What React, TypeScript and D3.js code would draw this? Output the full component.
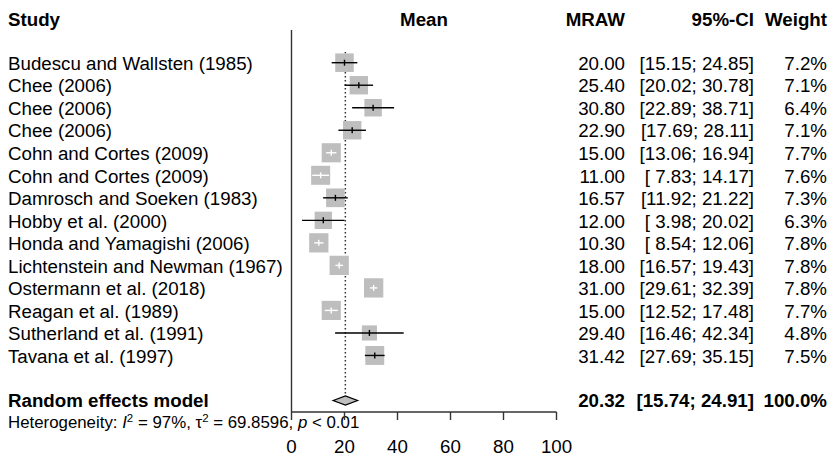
import React from "react";
import * as d3 from "d3";

const studies = [
  "Budescu and Wallsten (1985)",
  "Chee (2006)",
  "Chee (2006)",
  "Chee (2006)",
  "Cohn and Cortes (2009)",
  "Cohn and Cortes (2009)",
  "Damrosch and Soeken (1983)",
  "Hobby et al. (2000)",
  "Honda and Yamagishi (2006)",
  "Lichtenstein and Newman (1967)",
  "Ostermann et al. (2018)",
  "Reagan et al. (1989)",
  "Sutherland et al. (1991)",
  "Tavana et al. (1997)",
];
const means = [20.0, 25.4, 30.8, 22.9, 15.0, 11.0, 16.57, 12.0, 10.3, 18.0, 31.0, 15.0, 29.4, 31.42];
const lower = [15.15, 20.02, 22.89, 17.69, 13.06, 7.83, 11.92, 3.98, 8.54, 16.57, 29.61, 12.52, 16.46, 27.69];
const upper = [24.85, 30.78, 38.71, 28.11, 16.94, 14.17, 21.22, 20.02, 12.06, 19.43, 32.39, 17.48, 42.34, 35.15];
const weights = [7.2, 7.1, 6.4, 7.1, 7.7, 7.6, 7.3, 6.3, 7.8, 7.8, 7.8, 7.7, 4.8, 7.5];
const pooled = { label: "Random effects model", mean: 20.32, lower: 15.74, upper: 24.91, weight: 100.0 };
const xTicks = [0, 20, 40, 60, 80, 100];
const headers = { study: "Study", plot: "Mean", est: "MRAW", ci: "95%-CI", weight: "Weight" };

const FONT = "'Liberation Sans', Arial, Helvetica, sans-serif";
const SX = 1.04;
const FS = 18;

function T(props: {
  x: number;
  y: number;
  anchor?: string;
  bold?: boolean;
  size?: number;
  children: React.ReactNode;
}) {
  const { x, y, anchor = "start", bold = false, size = FS, children } = props;
  return (
    <text
      transform={`translate(${x},${y}) scale(${SX},1)`}
      textAnchor={anchor}
      fontFamily={FONT}
      fontSize={size}
      fontWeight={bold ? "bold" : "normal"}
      fill="#000"
      style={{ whiteSpace: "pre" }}
    >
      {children}
    </text>
  );
}

export default function App() {
  const W = 833;
  const H = 456;
  const x = d3.scaleLinear().domain([0, 100]).range([291.5, 556.5]);
  const y = d3.scaleLinear().domain([1, 16]).range([62.7, 400.5]);
  const boxSide = (w: number) => 6.9 * Math.sqrt(w);
  const f2 = d3.format(".2f");
  const f52 = d3.format("5.2f");
  const f1 = d3.format(".1f");
  const axisY = 412;
  const colEst = 625;
  const colCi = 754;
  const colW = 827;
  const textOff = 7.2;
  const pooledOff = 6.4;

  const rows = studies.map((s, i) => ({
    study: s,
    mean: means[i],
    lo: lower[i],
    hi: upper[i],
    w: weights[i],
    yy: y(i + 1),
  }));

  const py = y(16);
  const diamond = [
    [x(pooled.lower), py],
    [x(pooled.mean), py - 4.5],
    [x(pooled.upper), py],
    [x(pooled.mean), py + 4.5],
  ];

  return (
    <svg width={W} height={H} style={{ position: "absolute", left: 0, top: 0, background: "#fff" }}>
      {/* headers */}
      <T x={8} y={26} bold>{headers.study}</T>
      <T x={(x(0) + x(100)) / 2} y={26} anchor="middle" bold>{headers.plot}</T>
      <T x={colEst} y={26} anchor="end" bold>{headers.est}</T>
      <T x={colCi} y={26} anchor="end" bold>{headers.ci}</T>
      <T x={colW} y={26} anchor="end" bold>{headers.weight}</T>

      {/* reference line at 0 */}
      <line x1={x(0)} x2={x(0)} y1={30} y2={axisY} stroke="#333" strokeWidth={1.4} />
      {/* dotted pooled line */}
      <line
        x1={x(pooled.mean)}
        x2={x(pooled.mean)}
        y1={52}
        y2={py - 4.5}
        stroke="#333"
        strokeWidth={1.5}
        strokeDasharray="1.5,2.5"
      />

      {/* studies */}
      {rows.map((r, i) => {
        const s = boxSide(r.w);
        const inside = x(r.hi) - x(r.lo) < s;
        const col = inside ? "#fff" : "#000";
        return (
          <g key={i}>
            <rect x={x(r.mean) - s / 2} y={r.yy - s / 2} width={s} height={s} fill="#BEBEBE" />
            <line x1={x(r.lo)} x2={x(r.hi)} y1={r.yy} y2={r.yy} stroke={col} strokeWidth={1.4} />
            <line x1={x(r.mean)} x2={x(r.mean)} y1={r.yy - 3} y2={r.yy + 3} stroke={col} strokeWidth={1.4} />
            <T x={8} y={r.yy + textOff}>{r.study}</T>
            <T x={colEst} y={r.yy + textOff} anchor="end">{f2(r.mean)}</T>
            <T x={colCi} y={r.yy + textOff} anchor="end">{`[${f52(r.lo)}; ${f52(r.hi)}]`}</T>
            <T x={colW} y={r.yy + textOff} anchor="end">{`${f1(r.w)}%`}</T>
          </g>
        );
      })}

      {/* pooled */}
      <polygon points={diamond.map((p) => p.join(",")).join(" ")} fill="#BEBEBE" stroke="#000" strokeWidth={1.3} />
      <T x={8} y={py + pooledOff} bold>{pooled.label}</T>
      <T x={colEst} y={py + pooledOff} anchor="end" bold>{f2(pooled.mean)}</T>
      <T x={colCi} y={py + pooledOff} anchor="end" bold>{`[${f52(pooled.lower)}; ${f52(pooled.upper)}]`}</T>
      <T x={colW} y={py + pooledOff} anchor="end" bold>{`${f1(pooled.weight)}%`}</T>

      {/* heterogeneity */}
      <text
        transform={`translate(8,427.5) scale(${SX},1)`}
        fontFamily={FONT}
        fontSize={16.2}
        fill="#000"
        style={{ whiteSpace: "pre" }}
      >
        <tspan>Heterogeneity: </tspan>
        <tspan fontStyle="italic">I</tspan>
        <tspan fontSize={11} dy={-5.5}>2</tspan>
        <tspan dy={5.5}> = 97%, τ</tspan>
        <tspan fontSize={11} dy={-5.5}>2</tspan>
        <tspan dy={5.5}> = 69.8596, </tspan>
        <tspan fontStyle="italic">p</tspan>
        <tspan> &lt; 0.01</tspan>
      </text>

      {/* x axis */}
      <line x1={x(0)} x2={x(100)} y1={axisY} y2={axisY} stroke="#333" strokeWidth={1.4} />
      {xTicks.map((t) => (
        <g key={t}>
          <line x1={x(t)} x2={x(t)} y1={axisY} y2={axisY + 8} stroke="#333" strokeWidth={1.4} />
          <T x={x(t)} y={452.5} anchor="middle">{String(t)}</T>
        </g>
      ))}
    </svg>
  );
}
